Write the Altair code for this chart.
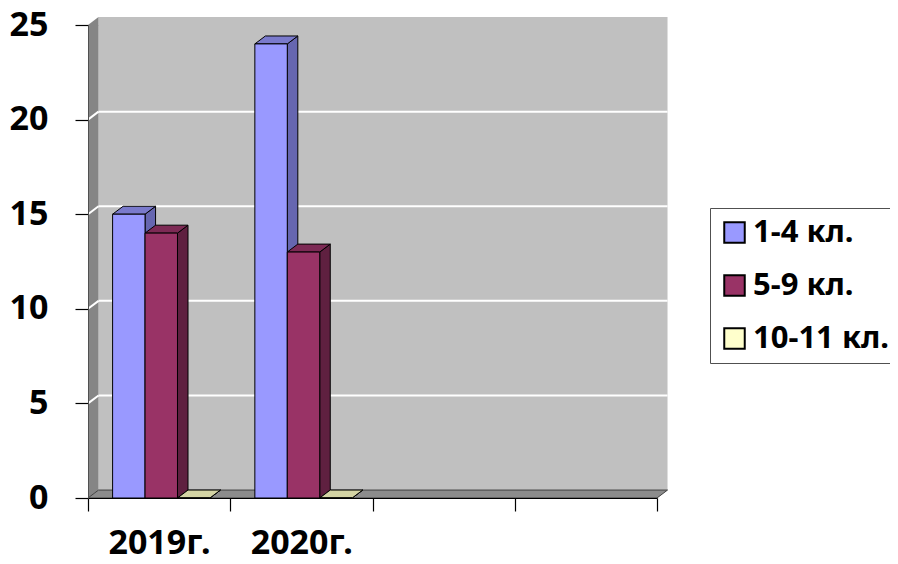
import json
import altair as alt
import pandas as pd

# ---- data ----
axis_labels = ["2019г.", "2020г.", "", ""]
categories = ["2019г.", "2020г."]
series = ["1-4 кл.", "5-9 кл.", "10-11 кл."]
values_1_4 = [15, 24]
values_5_9 = [14, 13]
values_10_11 = [0, 0]
y_ticks = [0, 5, 10, 15, 20, 25]

series_values = [values_1_4, values_5_9, values_10_11]

# ---- styles ----
front_colors = ["#9999FF", "#993366", "#FFFFCC"]
side_colors = ["#6666B0", "#5F2040", "#B8B890"]
top_colors = ["#7A7ACC", "#7D2A55", "#D4D4A4"]
FONT = "Noto Sans"

N = len(axis_labels)
YMAX = y_ticks[-1]
DX = 0.074   # 3D depth along x (category units)
DY = 0.42    # 3D depth along y (value units)
BW = 0.228   # bar width (category units)
GC = 0.515   # group centre within category

fronts, sides, tops = [], [], []
for si, (s, vals) in enumerate(zip(series, series_values)):
    for ci, (c, v) in enumerate(zip(categories, vals)):
        xl = ci + GC - 1.5 * BW + si * BW
        xr = xl + BW
        bid = f"{si}-{ci}"
        fronts.append(dict(series=s, category=c, value=v, xl=xl, xr=xr, y0=0))
        sides.append(dict(id=bid, x=xr, y=0, y2=v, color=side_colors[si]))
        sides.append(dict(id=bid, x=xr + DX, y=DY, y2=v + DY, color=side_colors[si]))
        tops.append(dict(id=bid, y=v, x=xl, x2=xr, color=top_colors[si]))
        tops.append(dict(id=bid, y=v + DY, x=xl + DX, x2=xr + DX, color=top_colors[si]))

df_front = pd.DataFrame(fronts)
df_side = pd.DataFrame(sides)
df_top = pd.DataFrame(tops)

df_wall = pd.DataFrame([dict(x=DX, x2=N + DX, y=DY, y2=YMAX + DY)])
df_lwall = pd.DataFrame([dict(x=0, y=0, y2=YMAX), dict(x=DX, y=DY, y2=YMAX + DY)])
df_floor = pd.DataFrame([dict(y=0, x=0, x2=N), dict(y=DY, x=DX, x2=N + DX)])
grid_rows = []
for v in y_ticks[1:-1]:
    grid_rows.append(dict(x=DX, x2=N + DX, y=v + DY, y2=v + DY))
    grid_rows.append(dict(x=0, x2=DX, y=v, y2=v + DY))
df_grid = pd.DataFrame(grid_rows)

xscale = alt.Scale(domain=[0, N], nice=False, zero=False)
yscale = alt.Scale(domain=[0, YMAX], nice=False)

label_expr = f"datum.value < {N} ? {json.dumps(axis_labels, ensure_ascii=False)}[datum.value] : ''"
x_axis = alt.Axis(values=list(range(N + 1)), labelExpr=label_expr, title=None, grid=False,
                  tickSize=13, tickColor="black", tickWidth=1.2, domainColor="black", domainWidth=1.2,
                  labelOffset=71, labelPadding=42, labelBaseline="alphabetic",
                  labelFlush=False, labelOverlap=False, labelBound=False,
                  labelFont=FONT, labelFontSize=34, labelFontWeight="bold", labelColor="black", zindex=1)
y_axis = alt.Axis(values=y_ticks, title=None, grid=False, tickSize=13, tickColor="black", tickWidth=1.2,
                  domainColor="#505050", domainWidth=1, labelPadding=27,
                  labelFont=FONT, labelFontSize=34, labelFontWeight="bold", labelColor="black", zindex=1)

X = lambda f: alt.X(f, type="quantitative", scale=xscale, axis=x_axis)
Y = lambda f: alt.Y(f, type="quantitative", scale=yscale, axis=y_axis)

wall = alt.Chart(df_wall).mark_rect(color="#C0C0C0").encode(
    x=X("x"), x2="x2", y=Y("y"), y2="y2")
lwall = alt.Chart(df_lwall).mark_area(color="#858585", orient="vertical").encode(
    x=X("x"), y=Y("y"), y2="y2")
floor = alt.Chart(df_floor).mark_area(color="#8C8C8C", stroke="#404040", strokeWidth=1, orient="horizontal").encode(
    y=Y("y"), x=X("x"), x2="x2")
grid = alt.Chart(df_grid).mark_rule(color="white", strokeWidth=2).encode(
    x=X("x"), x2="x2", y=Y("y"), y2="y2")

side = alt.Chart(df_side).mark_area(orient="vertical", stroke="black", strokeWidth=1).encode(
    x=X("x"), y=Y("y"), y2="y2", detail="id:N", color=alt.Color("color:N", scale=None))
top = alt.Chart(df_top).mark_area(orient="horizontal", stroke="black", strokeWidth=1).encode(
    y=Y("y"), x=X("x"), x2="x2", detail="id:N", color=alt.Color("color:N", scale=None))
front = alt.Chart(df_front).mark_rect(stroke="black", strokeWidth=1).encode(
    x=X("xl"), x2="xr", y=Y("y0"), y2="value",
    color=alt.Color("series:N", scale=alt.Scale(domain=series, range=front_colors), title=None,
                    legend=alt.Legend(orient="none", legendX=622, legendY=183,
                                      symbolType="square", symbolSize=420, symbolStrokeColor="black",
                                      symbolStrokeWidth=2, symbolOpacity=1,
                                      labelFont=FONT, labelFontSize=31, labelFontWeight="bold",
                                      labelColor="black", labelOffset=3, rowPadding=21, padding=9,
                                      fillColor="white", strokeColor="#505050")),
    order=alt.Order("series:N"))

chart = alt.layer(wall, lwall, floor, grid, side, top, front).properties(
    width=569, height=473,
    autosize=alt.AutoSizeParams(type="none"),
    padding={"left": 80, "top": 17, "right": 233, "bottom": 58},
).configure_view(strokeWidth=0).configure(background="white")

chart.save("out.html", embed_options={"renderer": "svg", "actions": False})
